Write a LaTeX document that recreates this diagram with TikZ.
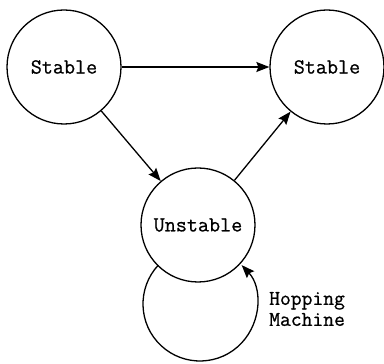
\documentclass[tikz,border=0pt]{standalone}
\usepackage{fontspec}
\newfontfamily\courfont{Latin Modern Mono}[FakeBold=0.8]
\usetikzlibrary{arrows.meta}
\begin{document}
\begin{tikzpicture}[x=1pt,y=1pt,
  state/.style={circle,draw,line width=1.3pt,minimum size=114pt,inner sep=0pt,font=\courfont\fontsize{21.5}{19}\selectfont},
  conn/.style={line width=1.3pt,-{Stealth[length=13pt,width=10pt,inset=2pt]}},
  lbl/.style={font=\courfont\fontsize{21}{21}\selectfont,align=left,inner sep=0pt}]
\useasboundingbox (0,0) rectangle (384,364);
\node[state] (L) at (64,297) {Stable};
\node[state] (R) at (327,297) {Stable};
\node[state] (U) at (198,139) {Unstable};
\draw[conn] (L) -- (R);
\draw[conn] (L) -- (U);
\draw[conn] (U) -- (R);
\coordinate (lc) at (200,60);
\draw[conn] ([shift={(137:57)}]lc) arc[start angle=137,end angle=403,radius=57];
\node[lbl,anchor=west] (hm) at (269,55) {Hopping\\Machine};
\end{tikzpicture}
\end{document}
